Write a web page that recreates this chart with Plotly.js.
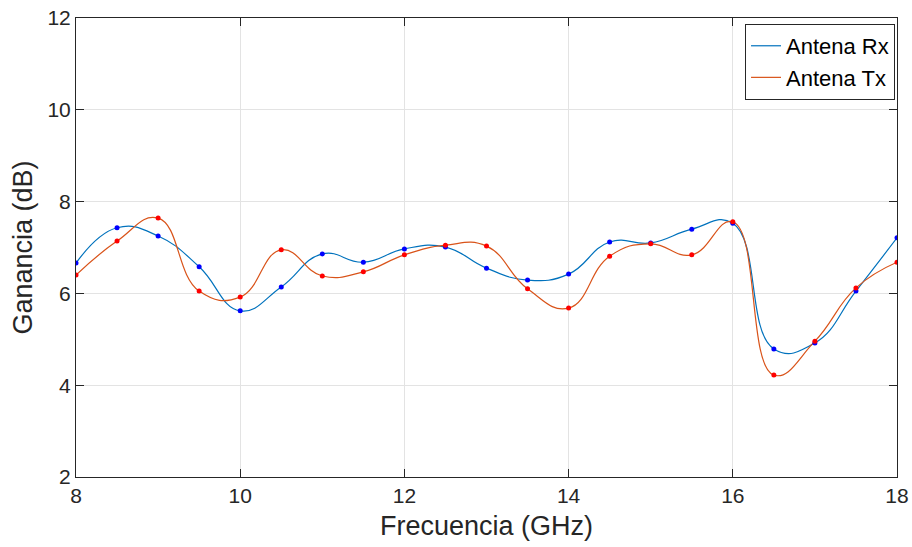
<!DOCTYPE html>
<html>
<head>
<meta charset="utf-8">
<script src="https://cdn.plot.ly/plotly-3.0.1.min.js"></script>
<style>html,body{margin:0;padding:0;background:#fff;}</style>
</head>
<body>
<div id="chart" style="width:912px;height:547px;"></div>
<script>
const freq = [8, 8.5, 9, 9.5, 10, 10.5, 11, 11.5, 12, 12.5, 13, 13.5, 14, 14.5, 15, 15.5, 16, 16.5, 17, 17.5, 18];
const gainRx = [6.66, 7.43, 7.25, 6.58, 5.62, 6.14, 6.86, 6.68, 6.97, 7.01, 6.55, 6.29, 6.42, 7.12, 7.10, 7.40, 7.53, 4.79, 4.92, 6.05, 7.21];
const gainTx = [6.40, 7.14, 7.64, 6.05, 5.92, 6.95, 6.38, 6.47, 6.84, 7.05, 7.03, 6.10, 5.68, 6.81, 7.08, 6.84, 7.56, 4.22, 4.96, 6.12, 6.68];
const xTicks = [8, 10, 12, 14, 16, 18];
const yTicks = [2, 4, 6, 8, 10, 12];

const font = 'Liberation Sans, Arial, Helvetica, sans-serif';
const dark = '#262626';

const traces = [
  {x: freq, y: gainRx, name: 'Antena Rx', mode: 'lines', line: {color: '#0072BD', width: 1.2, shape: 'spline', smoothing: 1.3}},
  {x: freq, y: gainTx, name: 'Antena Tx', mode: 'lines', line: {color: '#D95319', width: 1.2, shape: 'spline', smoothing: 1.3}},
  {x: freq, y: gainRx, mode: 'markers', showlegend: false, hoverinfo: 'skip', marker: {color: '#0000FF', size: 5}},
  {x: freq, y: gainTx, mode: 'markers', showlegend: false, hoverinfo: 'skip', marker: {color: '#FF0000', size: 5}}
];

const axisCommon = {
  showline: true, linecolor: dark, linewidth: 1, mirror: 'ticks',
  ticks: 'inside', ticklen: 8, tickcolor: dark, tickwidth: 1,
  showgrid: true, gridcolor: '#e3e3e3', gridwidth: 1,
  zeroline: false, tickfont: {family: font, size: 21, color: dark}
};

const layout = {
  width: 912, height: 547,
  margin: {l: 76, r: 15, t: 18, b: 70},
  paper_bgcolor: '#ffffff', plot_bgcolor: '#ffffff',
  font: {family: font, color: dark},
  showlegend: true,
  legend: {
    x: 0.9976, xanchor: 'right', y: 0.987, yanchor: 'top',
    bordercolor: dark, borderwidth: 1, bgcolor: '#ffffff',
    font: {family: font, size: 22, color: '#000'},
    itemwidth: 30, tracegroupgap: 0
  },
  xaxis: Object.assign({}, axisCommon, {
    range: [8, 18], tickvals: xTicks, ticktext: xTicks.map(String),
    title: {text: 'Frecuencia (GHz)', font: {family: font, size: 27, color: dark}, standoff: 9}
  }),
  yaxis: Object.assign({}, axisCommon, {
    range: [2, 12], tickvals: yTicks, ticktext: yTicks.map(String),
    title: {text: 'Ganancia (dB)', font: {family: font, size: 27, color: dark}, standoff: 6}
  })
};

Plotly.newPlot('chart', traces, layout, {staticPlot: true, displayModeBar: false});
</script>
</body>
</html>
